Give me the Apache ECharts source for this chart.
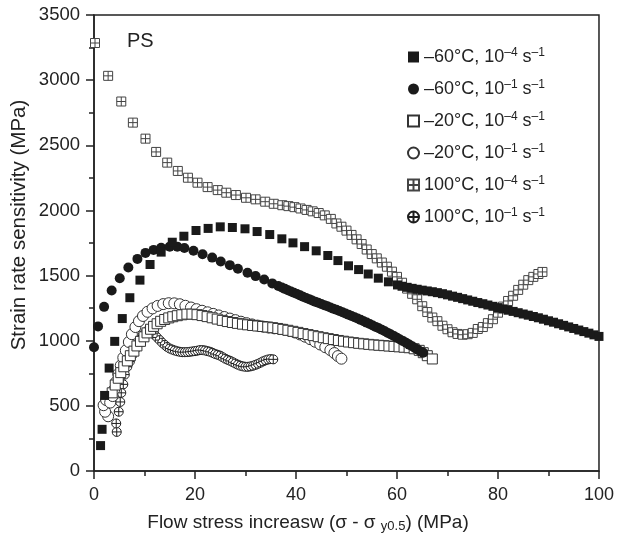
<!DOCTYPE html>
<html>
<head>
<meta charset="utf-8">
<script src="https://cdn.jsdelivr.net/npm/echarts@6/dist/echarts.min.js"></script>
<style>html,body{margin:0;padding:0;background:#fff}#c{width:617px;height:541px}</style>
</head>
<body>
<div id="c"></div>
<script>
// ---- data (x: flow stress increase MPa, y: strain rate sensitivity MPa) ----
const legendMain = ['–60°C, 10', '–60°C, 10', '–20°C, 10', '–20°C, 10', '100°C, 10', '100°C, 10'];
const legendExp = ['–4', '–1', '–4', '–1', '–4', '–1'];
const seriesNames = ['m60_slow', 'm60_fast', 'm20_slow', 'm20_fast', 'p100_slow', 'p100_fast'];

const m60Slow = [[1.3,195],[1.6,320],[2.1,580],[3.0,790],[4.1,995],[5.6,1170],[7.1,1330],[9.1,1465],[11.1,1585],[13.3,1680],[15.5,1756],[17.8,1802],[20.2,1846],[22.6,1862],[25,1874],[27.4,1869],[29.9,1859],[32.3,1838],[34.8,1815],[37.2,1782],[39.4,1751],[41.7,1722],[44,1690],[46.3,1654],[48.3,1615],[50.4,1575],[52.4,1546],[54.3,1512],[56.3,1480],[58.3,1452],[60.1,1428],[61,1418],[62,1410],[63,1402],[64,1395],[65,1388],[66,1382],[67,1376],[68,1369],[69,1361],[70,1352],[71,1342],[72,1333],[73,1323],[74,1313],[75,1303],[76,1293],[77,1284],[78,1274],[79,1264],[80,1254],[81,1244],[82,1234],[83,1225],[84,1215],[85,1205],[86,1196],[87,1186],[88,1176],[89,1165],[90,1153],[91,1142],[92,1130],[93,1118],[94,1106],[95,1094],[96,1082],[97,1070],[98,1058],[99,1045],[100,1033]];

const m60Fast = [[0,950],[0.8,1110],[2.0,1260],[3.5,1385],[5.1,1480],[6.8,1562],[8.6,1628],[10.2,1674],[11.8,1697],[13.3,1713],[15,1722],[16.5,1722],[17.9,1712],[19.7,1690],[21.5,1664],[23.4,1638],[25.1,1608],[26.9,1580],[28.5,1553],[30.4,1522],[32,1496],[33.7,1470],[35.3,1440],[36.5,1420],[37.2,1408],[37.8,1398],[38.4,1388],[39,1378],[39.6,1368],[40.2,1358],[40.8,1348],[41.4,1338],[42,1328],[42.6,1319],[43.2,1309],[43.8,1300],[44.4,1291],[45,1282],[45.6,1273],[46.2,1264],[46.8,1255],[47.4,1246],[48,1237],[48.6,1228],[49.2,1219],[49.8,1209],[50.4,1200],[51,1190],[51.6,1180],[52.2,1170],[52.8,1160],[53.4,1149],[54,1139],[54.6,1128],[55.2,1117],[55.8,1106],[56.4,1095],[57,1084],[57.6,1072],[58.2,1060],[58.8,1048],[59.4,1036],[60,1023],[60.6,1010],[61.2,997],[61.8,984],[62.4,970],[63,957],[63.6,943],[64.2,929],[64.8,916],[65.2,908]];

const m20Slow = [[3.6,600],[4.2,660],[4.8,712],[5.3,755],[5.9,800],[6.6,845],[7.2,885],[7.9,920],[8.5,960],[9.2,995],[9.9,1030],[10.5,1060],[11.2,1088],[11.8,1110],[12.5,1130],[13.2,1149],[14,1163],[14.8,1175],[15.6,1184],[16.5,1192],[17.4,1199],[18.4,1204],[19.4,1204],[20.4,1200],[21.4,1193],[22.4,1185],[23.4,1176],[24.4,1166],[25.4,1156],[26.4,1147],[27.4,1140],[28.4,1133],[29.4,1127],[30.4,1122],[31.4,1117],[32.4,1113],[33.4,1109],[34.4,1105],[35.4,1100],[36.4,1094],[37.4,1087],[38.4,1080],[39.4,1072],[40.4,1064],[41.4,1055],[42.4,1047],[43.4,1039],[44.4,1031],[45.4,1023],[46.4,1016],[47.4,1009],[48.4,1002],[49.4,996],[50.4,990],[51.4,985],[52.4,980],[53.4,976],[54.4,972],[55.4,968],[56.4,965],[57.4,962],[58.4,959],[59.4,956],[60.4,953],[61.4,950],[62.4,946],[63.4,938],[64.4,926],[65.2,908],[66,885],[67,860]];

const m20Fast = [[2.8,420],[2.2,455],[1.9,505],[2.4,545],[3.2,525],[3.7,575],[4.0,625],[4.4,685],[4.8,745],[5.3,810],[5.8,870],[6.3,925],[6.9,990],[7.5,1050],[8.2,1105],[8.9,1150],[9.7,1190],[10.6,1222],[11.6,1248],[12.6,1267],[13.7,1281],[14.8,1288],[15.9,1287],[17.0,1280],[18.1,1268],[19.2,1255],[20.3,1242],[21.4,1230],[22.5,1218],[23.6,1206],[24.7,1194],[25.8,1182],[26.9,1170],[28,1158],[29.1,1146],[30.2,1135],[31.3,1125],[32.4,1116],[33.5,1108],[34.6,1101],[35.7,1095],[36.8,1090],[37.8,1084],[38.8,1075],[39.8,1063],[40.8,1048],[41.8,1031],[42.8,1012],[43.8,992],[44.8,971],[45.8,950],[46.8,928],[47.6,905],[48.3,882],[49,862]];

const p100Slow = [[0.2,3285],[2.8,3033],[5.4,2836],[7.7,2674],[10.2,2551],[12.3,2449],[14.5,2367],[16.6,2303],[18.6,2251],[20.5,2213],[22.5,2179],[24.5,2156],[26.2,2136],[28.1,2118],[30.1,2097],[32,2085],[33.9,2067],[35.6,2051],[37.3,2040],[38.5,2033],[39.7,2025],[40.9,2015],[42.1,2004],[43.3,1993],[44.5,1980],[45.7,1962],[46.9,1935],[48,1900],[49,1875],[50,1845],[51,1812],[52,1778],[53,1742],[54,1700],[55,1665],[56,1632],[57,1600],[58,1568],[59,1530],[60,1490],[61,1445],[62,1400],[63,1360],[64,1318],[65,1265],[66,1220],[67,1178],[68,1150],[69,1115],[70,1088],[71,1065],[72,1052],[73,1046],[74,1050],[75,1060],[76,1090],[77,1105],[78,1135],[79,1165],[80,1215],[81,1262],[82,1305],[83,1345],[84,1390],[85,1430],[86,1465],[87,1490],[88,1512],[88.8,1528]];

const p100Fast = [[4.5,300],[4.4,365],[4.9,455],[5.2,530],[5.4,600],[5.8,665],[6.1,740],[6.6,800],[7.1,840],[7.6,890],[8.1,930],[8.6,970],[9.1,1005],[9.6,1040],[10.1,1062],[10.6,1078],[11.1,1075],[11.5,1065],[12,1045],[12.5,1025],[13,1005],[13.5,985],[14,968],[14.5,952],[15,940],[15.5,932],[16,925],[16.5,919],[17,915],[17.5,912],[18,912],[18.5,913],[19,915],[19.5,918],[20,920],[20.5,924],[21,928],[21.5,928],[22,925],[22.5,920],[23,915],[23.5,907],[24,898],[24.5,892],[25,885],[25.5,873],[26,862],[26.5,853],[27,845],[27.5,835],[28,825],[28.5,816],[29,808],[29.5,803],[30,800],[30.5,800],[31,803],[31.5,808],[32,815],[32.5,823],[33,832],[33.5,842],[34,850],[34.5,856],[35,859],[35.5,857]];

const xMin = 0, xMax = 100, xStep = 20;
const yMin = 0, yMax = 3500, yStep = 500;

// ---- chart ----
const FONT = '"Liberation Sans", Arial, sans-serif';
const crossSquare = 'path://M0,0H10V10H0ZM5,0V10M0,5H10';
const crossCircle = 'path://M0,5A5,5,0,1,1,10,5A5,5,0,1,1,0,5ZM5,0V10M0,5H10';

const datasets = [m60Slow, m60Fast, m20Slow, m20Fast, p100Slow, p100Fast];
const styles = [
  {symbol: 'rect', size: 9, item: {color: '#1a1a1a'}, z: 8},
  {symbol: 'circle', size: 10, item: {color: '#1a1a1a'}, z: 7},
  {symbol: 'rect', size: 10, item: {color: '#fff', borderColor: '#333', borderWidth: 1}, z: 6},
  {symbol: 'circle', size: 11, item: {color: '#fff', borderColor: '#333', borderWidth: 1}, z: 5},
  {symbol: crossSquare, size: 9, item: {color: '#fff', borderColor: '#444', borderWidth: 1}, z: 3},
  {symbol: crossCircle, size: 9, item: {color: '#fff', borderColor: '#1e1e1e', borderWidth: 1}, z: 4}
];

const series = datasets.map((d, i) => ({
  name: seriesNames[i],
  type: 'scatter',
  data: d,
  symbol: styles[i].symbol,
  symbolSize: styles[i].size,
  itemStyle: Object.assign({opacity: 1}, styles[i].item),
  z: styles[i].z,
  clip: false,
  emphasis: {disabled: true}
}));

const chart = echarts.init(document.getElementById('c'), null, {renderer: 'canvas'});
chart.setOption({
  animation: false,
  backgroundColor: '#fff',
  textStyle: {fontFamily: FONT},
  grid: {left: 94, right: 17, top: 15, bottom: 70, show: true, borderColor: '#222', borderWidth: 1.5, backgroundColor: 'transparent'},
  legend: {
    orient: 'vertical',
    left: 402, top: 42,
    itemWidth: 11, itemHeight: 11, itemGap: 13,
    data: seriesNames,
    formatter: function (name) {
      const i = seriesNames.indexOf(name);
      return '{t|' + legendMain[i] + '}{s|' + legendExp[i] + '}{t| s}{s|–1}';
    },
    textStyle: {
      fontFamily: FONT, color: '#222', fontSize: 18,
      rich: {
        t: {fontSize: 18, fontFamily: FONT, color: '#222', lineHeight: 20},
        s: {fontSize: 12, fontFamily: FONT, color: '#222', verticalAlign: 'top', lineHeight: 20}
      }
    }
  },
  xAxis: {
    type: 'value', min: xMin, max: xMax, interval: xStep,
    axisLine: {show: true, lineStyle: {color: '#222', width: 1.5}},
    axisTick: {show: true, inside: false, length: 8, lineStyle: {color: '#222', width: 1.5}},
    minorTick: {show: true, splitNumber: 2, length: 5, lineStyle: {color: '#222', width: 1.5}},
    splitLine: {show: false},
    axisLabel: {fontSize: 18, color: '#222', margin: 15, fontFamily: FONT, formatter: v => String(v)}
  },
  yAxis: {
    type: 'value', min: yMin, max: yMax, interval: yStep,
    axisLine: {show: true, lineStyle: {color: '#222', width: 1.5}},
    axisTick: {show: true, inside: false, length: 8, lineStyle: {color: '#222', width: 1.5}},
    minorTick: {show: true, splitNumber: 2, length: 5, lineStyle: {color: '#222', width: 1.5}},
    splitLine: {show: false},
    axisLabel: {fontSize: 18.5, color: '#222', margin: 14, fontFamily: FONT, formatter: v => String(v)}
  },
  graphic: [
    {type: 'text', left: 127, top: 31, style: {text: 'PS', fontSize: 20, fontFamily: FONT, fill: '#222'}},
    {type: 'text', x: 19, y: 225, rotation: Math.PI / 2,
     style: {text: 'Strain rate sensitivity (MPa)', fontSize: 20.5, fontFamily: FONT, fill: '#222', align: 'center', verticalAlign: 'middle'}},
    {type: 'text', x: 308, y: 523,
     style: {text: 'Flow stress increasw (σ - σ {sub|y0.5}) (MPa)', fontSize: 19, fontFamily: FONT, fill: '#222', align: 'center', verticalAlign: 'middle',
       rich: {sub: {fontSize: 13, fontFamily: FONT, fill: '#222', verticalAlign: 'bottom', padding: [6, 0, 0, 0]}}}}
  ],
  series: series
});
</script>
</body>
</html>
